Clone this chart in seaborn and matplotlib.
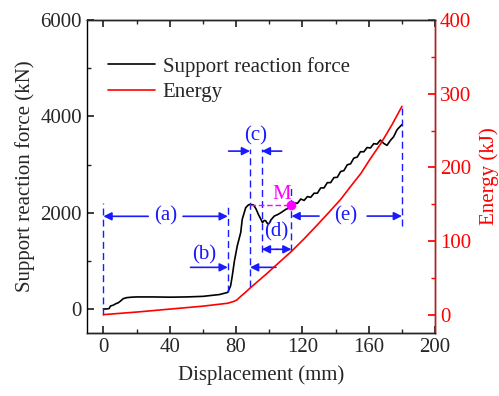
import numpy as np
import pandas as pd
import matplotlib
matplotlib.use("Agg")
import matplotlib.pyplot as plt
from matplotlib.ticker import MultipleLocator
from matplotlib.lines import Line2D
import seaborn as sns

# ---- data ----
disp_force = [0, 2, 3.5, 4.2, 6, 7.5, 9, 10.5, 12, 14, 17, 20, 30, 40, 50, 60, 70, 75,
              76.7, 77.7, 79, 80.7, 82.8, 83.7, 85.8, 87.5, 89, 90.5, 92, 93.5, 95, 95.9,
              97, 97.9, 99, 99.9, 101, 103, 105, 107, 110, 112, 113.4,
              115, 117, 119, 121, 123, 125, 127, 129, 131, 133, 135, 137, 139, 141,
              143, 145, 147, 149, 151, 153, 155, 157, 159, 161, 163, 165, 167,
              169, 171, 173, 175, 177, 178, 180]
force = [0, 0, 10, 60, 80, 110, 130, 170, 215, 235, 245, 250, 250, 245, 250, 262, 300, 345,
         482, 690, 1000, 1310, 1590, 1863, 2105, 2165, 2170, 2160, 2080, 1960, 1860, 1795,
         1840, 1830, 1770, 1775, 1850, 1930, 1960, 2000, 2070, 2100, 2150,
         2205, 2195, 2285, 2255, 2335, 2320, 2405, 2405, 2515, 2515, 2625, 2625, 2730, 2735,
         2855, 2875, 2995, 3015, 3135, 3155, 3268, 3265, 3355, 3345, 3435, 3425, 3510,
         3440, 3400, 3500, 3580, 3720, 3760, 3830]

disp_energy = [0, 20, 40, 60, 75, 78.7, 80.5, 82.8, 85, 88.4, 93, 98.9, 105, 113.4, 121,
               129, 136, 143.2, 149, 155.3, 161, 167.4, 174, 180]
energy = [0, 3.5, 7.5, 11.5, 15.5, 18, 20, 24.8, 29, 36, 45, 56.5, 69, 86, 103,
          122, 139, 157, 174, 192, 212, 233, 258, 283]

x_ticks = [0, 40, 80, 120, 160, 200]
force_ticks = [0, 2000, 4000, 6000]
energy_ticks = [0, 100, 200, 300, 400]

df_f = pd.DataFrame({"Displacement": disp_force, "Force": force})
df_e = pd.DataFrame({"Displacement": disp_energy, "Energy": energy})

sns.set_theme(style="ticks")
plt.rcParams["font.family"] = ["Liberation Serif", "DejaVu Serif"]

fig = plt.figure(figsize=(4.99, 3.96), dpi=100)
ax = fig.add_axes([0.174, 0.159, 0.698, 0.790])
ax2 = ax.twinx()

sns.lineplot(data=df_f, x="Displacement", y="Force", ax=ax, color="black", lw=1.2,
             sort=False, estimator=None)
sns.lineplot(data=df_e, x="Displacement", y="Energy", ax=ax2, color="red", lw=1.2,
             sort=False, estimator=None)

fs = 15
ax.set_xlim(-10, 200)
ax.set_ylim(-500, 6000)
ax2.set_ylim(-25, 400)
ax.set_xticks(x_ticks)
ax.set_yticks(force_ticks)
ax2.set_yticks(energy_ticks)
ax.xaxis.set_minor_locator(MultipleLocator(20))
ax.yaxis.set_minor_locator(MultipleLocator(1000))
ax2.yaxis.set_minor_locator(MultipleLocator(50))
ax.tick_params(axis="both", which="both", direction="in", labelsize=fs, top=True)
ax.tick_params(which="major", length=5)
ax.tick_params(which="minor", length=3)
ax2.tick_params(axis="y", which="both", direction="in", colors="red", labelsize=fs)
ax2.tick_params(which="major", length=5)
ax2.tick_params(which="minor", length=3)
for s in ["left", "bottom", "top"]:
    ax.spines[s].set_color("black")
ax2.spines["right"].set_color("red")
for sp in list(ax.spines.values()) + list(ax2.spines.values()):
    sp.set_linewidth(1.0)
ax2.spines["left"].set_visible(False)

ax.set_xlabel("Displacement (mm)", fontsize=fs, labelpad=6)
ax.set_ylabel("Support reaction force (kN)", fontsize=fs, labelpad=4)
ax2.set_ylabel("Energy (kJ)", fontsize=fs, color="red", rotation=90, labelpad=6)

# legend
handles = [Line2D([], [], color="black", lw=1.2), Line2D([], [], color="red", lw=1.2)]
ax.legend(handles, ["Support reaction force", "Energy"], loc="upper left",
          frameon=False, fontsize=fs, handlelength=2.25, handletextpad=0.35,
          borderaxespad=0.3, labelspacing=0.3, bbox_to_anchor=(0.02, 0.93))

# annotations
blue = "#1a1aff"
mag = "#ff00ff"
dash = dict(color=blue, ls=(0, (5, 3)), lw=1.0)
vlines = [(0, -120, 2200), (75, 345, 2200), (88.4, 450, 3320),
          (95.5, 1180, 3320), (113.4, 1200, 2530), (180, 1720, 4250)]
for xv, y0, y1 in vlines:
    ax.plot([xv, xv], [y0, y1], **dash)

ap = dict(arrowstyle="-|>", color=blue, lw=1.2, mutation_scale=12, shrinkA=0, shrinkB=0)

def arrow(x0, x1, y):
    ax.annotate("", xy=(x1, y), xytext=(x0, y), arrowprops=ap)

# (a)
arrow(27, 0, 1925); arrow(48, 75, 1925)
ax.text(37.5, 1925, "(a)", color=blue, fontsize=fs, ha="center", va="center")
# (b)
arrow(52.5, 75, 865); arrow(104, 88.4, 865)
ax.text(60.5, 1120, "(b)", color=blue, fontsize=fs, ha="center", va="center")
# (c)
arrow(75.5, 88.4, 3280); arrow(107.5, 95.5, 3280)
ax.text(92, 3590, "(c)", color=blue, fontsize=fs, ha="center", va="center")
# (d)
arrow(104.5, 95.5, 1240); arrow(104.5, 113.4, 1240)
ax.text(104.5, 1600, "(d)", color=blue, fontsize=fs, ha="center", va="center")
# (e)
arrow(130, 113.4, 1930); arrow(159, 180, 1930)
ax.text(146, 1930, "(e)", color=blue, fontsize=fs, ha="center", va="center")

# M point
ax.plot([88.4, 113.4], [2150, 2150], color=mag, ls=(0, (4, 2)), lw=1.0)
ax.plot([113.4], [2150], "o", color=mag, ms=6, zorder=5)
ax.text(107.5, 2380, "M", color=mag, fontsize=fs, ha="center", va="center")

fig.savefig("out.png", dpi=100)
